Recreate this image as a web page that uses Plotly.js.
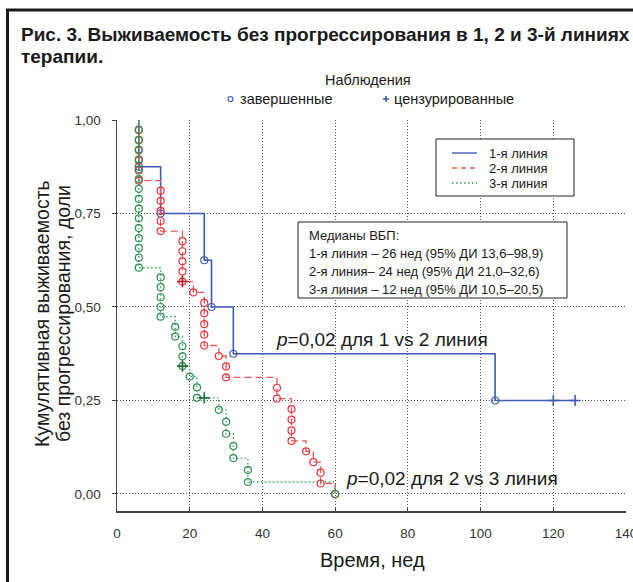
<!DOCTYPE html>
<html>
<head>
<meta charset="utf-8">
<script src="https://cdn.plot.ly/plotly-3.0.1.min.js"></script>
<style>html,body{margin:0;padding:0;background:#fff;}#chart{width:633px;height:582px;}</style>
</head>
<body>
<div id="chart"></div>
<script>
// ---- Data ----
// Line 1 (blue, solid)
const line1StepTime = [6, 6, 12, 24, 26, 32, 104, 126];
const line1StepSurv = [1.0, 0.875, 0.75, 0.625, 0.5, 0.375, 0.25, 0.25];
const line1EventTime = [6, 12, 24, 26, 32, 104];
const line1EventSurv = [0.875, 0.75, 0.625, 0.5, 0.375, 0.25];
const line1CensTime = [120, 126];
const line1CensSurv = [0.25, 0.25];

// Line 2 (red, dashed)
const line2StepTime = [6, 6, 12, 18, 21, 24, 28, 30, 44, 48, 52, 54, 56, 60];
const line2StepSurv = [1.0, 0.838, 0.703, 0.568, 0.539, 0.397, 0.369, 0.312, 0.255, 0.142, 0.114, 0.085, 0.028, 0.0];
const line2EventTime = [6, 6, 6, 6, 6, 6, 12, 12, 12, 12, 12, 18, 18, 18, 18, 18, 21, 24, 24, 24, 24, 24, 28, 30, 30, 44, 44, 48, 48, 48, 48, 52, 54, 56, 56, 60];
const line2EventSurv = [0.973, 0.946, 0.919, 0.892, 0.865, 0.838, 0.811, 0.784, 0.757, 0.730, 0.703, 0.676, 0.649, 0.622, 0.595, 0.568, 0.539, 0.511, 0.483, 0.454, 0.426, 0.397, 0.369, 0.341, 0.312, 0.284, 0.255, 0.227, 0.199, 0.170, 0.142, 0.114, 0.085, 0.057, 0.028, 0.0];
const line2CensTime = [18];
const line2CensSurv = [0.568];

// Line 3 (green, dotted)
const line3StepTime = [6, 6, 12, 16, 18, 20, 22, 28, 30, 32, 36, 60];
const line3StepSurv = [1.0, 0.605, 0.474, 0.421, 0.342, 0.314, 0.257, 0.225, 0.161, 0.096, 0.032, 0.0];
const line3EventTime = [6, 6, 6, 6, 6, 6, 6, 6, 6, 6, 6, 6, 6, 6, 6, 12, 12, 12, 12, 12, 16, 16, 18, 18, 18, 20, 22, 22, 28, 30, 30, 32, 32, 36, 36, 60];
const line3EventSurv = [0.974, 0.947, 0.921, 0.895, 0.868, 0.842, 0.816, 0.789, 0.763, 0.737, 0.711, 0.684, 0.658, 0.632, 0.605, 0.579, 0.553, 0.526, 0.500, 0.474, 0.447, 0.421, 0.395, 0.368, 0.342, 0.314, 0.285, 0.257, 0.225, 0.193, 0.161, 0.128, 0.096, 0.064, 0.032, 0.0];
const line3CensTime = [18, 24];
const line3CensSurv = [0.342, 0.257];

// Axis ticks
const xTickVals = [0, 20, 40, 60, 80, 100, 120, 140];
const xTickText = ['0', '20', '40', '60', '80', '100', '120', '140'];
const xGridVals = [20, 40, 60, 80, 100, 120];
const yTickVals = [0, 0.25, 0.5, 0.75, 1.0];
const yTickText = ['0,00', '0,25', '0,50', '0,75', '1,00'];

// Texts
const titleLines = ['Рис. 3. Выживаемость без прогрессирования в 1, 2 и 3-й линиях', 'терапии.'];
const seriesNames = ['1-я линия', '2-я линия', '3-я линия'];
const medianLines = ['Медианы ВБП:', '1-я линия – 26 нед (95% ДИ 13,6–98,9)', '2-я линия– 24 нед (95% ДИ 21,0–32,6)', '3-я линия – 12 нед (95% ДИ 10,5–20,5)'];
const yTitleLines = ['Кумулятивная выживаемость', 'без прогрессирования, доли'];

// ---- Styling ----
const FONT = 'Liberation Sans, Arial, Helvetica, sans-serif';
const BLUE = '#3d5cb3', RED = '#e8363c', GREEN = '#2b9150';
const RED_LINE = '#ec5a5a', GREEN_LINE = '#35a05a';

// pixel -> paper helpers (plot area 117..626 x, 120..511 y)
const L = 117, R = 626, T = 120, B = 511;
const xp = p => (p - L) / (R - L);
const yp = p => (B - p) / (B - T);

function stepTrace(x, y, color, dash, width) {
  return {x: x, y: y, type: 'scatter', mode: 'lines', line: {shape: 'hv', color: color, dash: dash, width: width}, hoverinfo: 'skip', showlegend: false, cliponaxis: false};
}
function eventTrace(x, y, color) {
  return {x: x, y: y, type: 'scatter', mode: 'markers', marker: {symbol: 'circle-open', size: 7, color: color, line: {width: 1.2, color: color}}, showlegend: false, cliponaxis: false};
}
function censTrace(x, y, color, axis) {
  return {x: x, y: y, type: 'scatter', mode: 'markers', xaxis: axis || 'x', marker: {symbol: 'cross-thin-open', size: 8, color: color, line: {width: 1.6, color: color}}, showlegend: false, cliponaxis: false};
}

const traces = [
  stepTrace(line1StepTime, line1StepSurv, BLUE, 'solid', 1.6),
  stepTrace(line2StepTime, line2StepSurv, RED_LINE, '7px,4px', 1.3),
  stepTrace(line3StepTime, line3StepSurv, GREEN_LINE, '1.5px,2.5px', 1.4),
  eventTrace(line1EventTime, line1EventSurv, BLUE),
  eventTrace(line2EventTime, line2EventSurv, RED),
  eventTrace(line3EventTime, line3EventSurv, GREEN),
  censTrace(line1CensTime, line1CensSurv, BLUE, 'x2'),
  censTrace(line2CensTime, line2CensSurv, '#b82020'),
  censTrace(line3CensTime, line3CensSurv, '#1f6e3a')
];

const ann = [];
function txt(text, x, y, size, xanchor, extra) {
  ann.push(Object.assign({text: text, xref: 'paper', yref: 'paper', x: xp(x), y: yp(y), xanchor: xanchor || 'left', yanchor: 'middle', showarrow: false, font: {family: FONT, size: size, color: '#1a1a1a'}}, extra || {}));
}
txt('<b>' + titleLines[0] + '</b>', 19, 34, 19, 'left');
txt('<b>' + titleLines[1] + '</b>', 19, 56, 19, 'left');
txt('Наблюдения', 368, 80, 14.5, 'center');
txt('завершенные', 238, 99, 14.5, 'left');
txt('цензурированные', 392, 99, 14.5, 'left');
txt(seriesNames[0], 487, 153, 13, 'left');
txt(seriesNames[1], 487, 168, 13, 'left');
txt(seriesNames[2], 487, 183, 13, 'left');
txt(medianLines[0], 307, 235, 13, 'left');
txt(medianLines[1], 307, 253, 13, 'left');
txt(medianLines[2], 307, 271, 13, 'left');
txt(medianLines[3], 307, 289, 13, 'left');
txt('<i>p</i>=0,02 для 1 vs 2 линия', 274, 339, 19, 'left');
txt('<i>p</i>=0,02 для 2 vs 3 линия', 344, 478, 19, 'left');
txt('Время, нед', 372, 560, 20, 'center');
txt(yTitleLines[0], 42, 314, 19.5, 'center', {textangle: -90});
txt(yTitleLines[1], 63, 314, 19.5, 'center', {textangle: -90});

const shapes = [
  // outer frame
  {type: 'rect', xref: 'paper', yref: 'paper', x0: xp(7.5), y0: yp(10), x1: xp(720), y1: yp(720), line: {color: '#1a1a1a', width: 3}, layer: 'above'},
  // series legend box
  {type: 'rect', xref: 'paper', yref: 'paper', x0: xp(436), y0: yp(139), x1: xp(574), y1: yp(196), line: {color: '#222', width: 1}, fillcolor: '#fff', layer: 'above'},
  {type: 'line', xref: 'paper', yref: 'paper', x0: xp(452), x1: xp(477), y0: yp(153), y1: yp(153), line: {color: BLUE, width: 1.4}, layer: 'above'},
  {type: 'line', xref: 'paper', yref: 'paper', x0: xp(452), x1: xp(477), y0: yp(168), y1: yp(168), line: {color: RED_LINE, width: 1.3, dash: '5px,4px'}, layer: 'above'},
  {type: 'line', xref: 'paper', yref: 'paper', x0: xp(452), x1: xp(477), y0: yp(183), y1: yp(183), line: {color: GREEN_LINE, width: 1.4, dash: '1.5px,2.5px'}, layer: 'above'},
  // medians box
  {type: 'rect', xref: 'paper', yref: 'paper', x0: xp(298), y0: yp(222), x1: xp(567), y1: yp(298), line: {color: '#222', width: 1}, fillcolor: '#fff', layer: 'above'},
  // observation legend symbols
  {type: 'circle', xref: 'paper', yref: 'paper', x0: xp(228), x1: xp(233), y0: yp(96.5), y1: yp(101.5), line: {color: BLUE, width: 1.2}, layer: 'above'},
  {type: 'line', xref: 'paper', yref: 'paper', x0: xp(383), x1: xp(389), y0: yp(99), y1: yp(99), line: {color: BLUE, width: 1.6}, layer: 'above'},
  {type: 'line', xref: 'paper', yref: 'paper', x0: xp(386), x1: xp(386), y0: yp(96), y1: yp(102), line: {color: BLUE, width: 1.6}, layer: 'above'}
];

const layout = {
  width: 633, height: 582,
  margin: {l: L, r: 633 - R, t: T, b: 582 - B, pad: 0},
  paper_bgcolor: '#fff', plot_bgcolor: '#fff',
  font: {family: FONT, size: 13, color: '#333'},
  showlegend: false,
  xaxis: {range: [0, 140], tickvals: xTickVals, ticktext: xTickText, showgrid: false, zeroline: false,
    showline: true, linecolor: '#444', linewidth: 1.5, ticks: 'inside', ticklen: 4, tickcolor: '#444',
    tickfont: {family: FONT, size: 13.5, color: '#333'}, ticklabelstandoff: 9, ticklabeloverflow: 'allow', fixedrange: true},
  xaxis2: {overlaying: 'x', range: [0, 140], tickvals: xGridVals, showticklabels: false, ticks: '',
    showgrid: true, gridcolor: '#555', griddash: '1px,2px', gridwidth: 1, zeroline: false, showline: false, fixedrange: true},
  yaxis: {range: [-0.0455, 1.0], tickvals: yTickVals, ticktext: yTickText, showgrid: true, gridcolor: '#555',
    griddash: '1px,2px', gridwidth: 1, zeroline: false, showline: true, linecolor: '#444', linewidth: 1.5,
    ticks: 'outside', ticklen: 4, tickcolor: '#444', tickfont: {family: FONT, size: 13.5, color: '#333'},
    ticklabelstandoff: 8, fixedrange: true},
  annotations: ann,
  shapes: shapes
};

Plotly.newPlot('chart', traces, layout, {displayModeBar: false, staticPlot: true});
</script>
</body>
</html>
